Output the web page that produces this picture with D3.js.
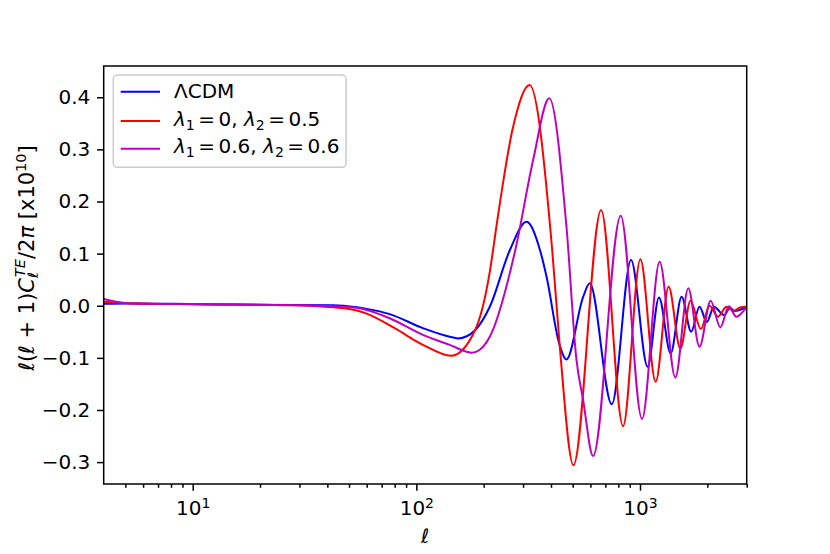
<!DOCTYPE html>
<html>
<head>
<meta charset="utf-8">
<script src="https://cdn.jsdelivr.net/npm/d3@7"></script>
<style>
  body { margin: 0; background: #fff; }
  svg text { font-family: "DejaVu Sans", sans-serif; fill: #000; }
</style>
</head>
<body>
<div id="chart"></div>
<script>
// multipole values (ell) and l(l+1)C_l^TE/2pi [x1e10]
const ellLcdm = [4, 5.1, 10.8, 27.3, 42.5, 54.2, 60, 76, 107,
  141, 154, 183, 213, 262, 311, 357, 382, 435, 469,
  557, 596, 748, 912, 1082, 1216, 1371, 1535, 1694, 1845,
  1990, 2140, 2377, 2526, 2650, 2985];
const clLcdm = [0.004, 0.0045, 0.003, 0.0015, 0.001, -0.003, -0.006, -0.016, -0.043,
  -0.0595, -0.0626, -0.047, -0.002, 0.107, 0.161, 0.107, 0.056, -0.072, -0.103,
  0.017, 0.043, -0.189, 0.0877, -0.117, 0.016, -0.0914, 0.0173, -0.05, -0.002,
  -0.031, -0.002, -0.018, -0.004, -0.01, -0.002];

const ellRed = [4, 5.1, 10.8, 27.3, 42.5, 54.2, 60, 80, 107, 143,
  183, 213, 228, 271, 321, 405, 438, 504, 670, 840,
  1004, 1175, 1343, 1515, 1683, 1871, 2046, 2230, 2438, 2610,
  2820, 2985];
const clRed = [0.0077, 0.005, 0.003, 0.001, -0.003, -0.009, -0.015, -0.043, -0.075, -0.096,
  -0.047, 0.065, 0.152, 0.344, 0.4236, 0.107, -0.079, -0.306, 0.1837, -0.231,
  0.089, -0.146, 0.0365, -0.0818, 0.0096, -0.0447, 0.0, -0.021, -0.002, -0.01,
  -0.003, -0.002];

const ellMag = [4, 5.1, 10.8, 27.3, 42.5, 54.2, 60, 76, 107, 141,
  177, 186, 213, 277, 333, 393, 469, 520, 557, 617,
  820, 1021, 1224, 1439, 1644, 1845, 2070, 2286, 2497, 2693,
  2985];
const clMag = [0.0129, 0.005, 0.003, 0.0012, -0.001, -0.004, -0.008, -0.024, -0.056, -0.075,
  -0.09, -0.088, -0.0595, 0.107, 0.28, 0.398, 0.152, -0.104, -0.181, -0.2885,
  0.1728, -0.217, 0.0845, -0.1375, 0.0334, -0.0787, 0.0096, -0.0415, -0.001, -0.021,
  -0.003];

const yTicks = [-0.3, -0.2, -0.1, 0.0, 0.1, 0.2, 0.3, 0.4];
const xTicks = [10, 100, 1000];
const xTickExp = ["1", "2", "3"];
const xMinorTicks = [5, 6, 7, 8, 9, 20, 30, 40, 50, 60, 70, 80, 90,
  200, 300, 400, 500, 600, 700, 800, 900, 2000, 3000];

const seriesNames = ["lcdm", "lam0", "lam06"];
const seriesColors = ["#0000ff", "#ff0000", "#bf00bf"];

const W = 830, H = 554;
const margin = { top: 66, right: 83.3, bottom: 70, left: 103.7 };

const svg = d3.select("#chart").append("svg")
  .attr("width", W)
  .attr("height", H);

const x = d3.scaleLog().domain([4, 3000]).range([margin.left, W - margin.right]);
const y = d3.scaleLinear().domain([-0.342, 0.46]).range([H - margin.bottom, margin.top]);

svg.append("clipPath").attr("id", "plotclip")
  .append("rect")
  .attr("x", margin.left).attr("y", margin.top)
  .attr("width", W - margin.left - margin.right)
  .attr("height", H - margin.top - margin.bottom);

// curves
const series = [
  { ell: ellLcdm, cl: clLcdm },
  { ell: ellRed, cl: clRed },
  { ell: ellMag, cl: clMag }
];
const line = d3.line()
  .x(d => x(d[0]))
  .y(d => y(d[1]))
  .curve(d3.curveMonotoneX);

series.forEach((s, i) => {
  svg.append("path")
    .datum(d3.zip(s.ell, s.cl))
    .attr("class", "curve " + seriesNames[i])
    .attr("clip-path", "url(#plotclip)")
    .attr("fill", "none")
    .attr("stroke", seriesColors[i])
    .attr("stroke-width", 2)
    .attr("d", line);
});

// axes
const fontSize = 20;
const smallSize = 14;
const yAxis = svg.append("g")
  .attr("transform", "translate(" + margin.left + ",0)")
  .call(d3.axisLeft(y).tickValues(yTicks).tickFormat(d3.format(".1f"))
    .tickSize(6.7).tickPadding(6.7));
yAxis.selectAll("text").attr("font-size", fontSize).attr("font-family", "DejaVu Sans");

const xAxis = svg.append("g")
  .attr("transform", "translate(0," + (H - margin.bottom) + ")")
  .call(d3.axisBottom(x).tickValues(xTicks).tickFormat(() => "")
    .tickSize(6.7));
xAxis.selectAll(".tick text").each(function(d, i) {
  const t = d3.select(this)
    .attr("font-size", fontSize)
    .attr("y", 30.5)
    .attr("dy", null);
  t.append("tspan").text("10");
  t.append("tspan").attr("font-size", smallSize).attr("dy", -7).text(xTickExp[i]);
});

svg.append("g")
  .attr("transform", "translate(0," + (H - margin.bottom) + ")")
  .call(d3.axisBottom(x).tickValues(xMinorTicks).tickFormat(() => "").tickSize(3.8))
  .call(g => g.select(".domain").remove());

svg.selectAll(".domain").attr("stroke", "none");
svg.selectAll(".tick line").attr("stroke", "#000").attr("stroke-width", 1.5);

// frame
svg.append("rect")
  .attr("x", margin.left).attr("y", margin.top)
  .attr("width", W - margin.left - margin.right)
  .attr("height", H - margin.top - margin.bottom)
  .attr("fill", "none")
  .attr("stroke", "#000")
  .attr("stroke-width", 1.5);

// axis labels
svg.append("text")
  .attr("x", (margin.left + W - margin.right) / 2)
  .attr("y", 543)
  .attr("text-anchor", "middle")
  .attr("font-size", fontSize)
  .attr("font-style", "italic")
  .text("\u2113");

const ylabSize = 21;
const ylab = svg.append("text")
  .attr("transform", "translate(34,258) rotate(-90)")
  .attr("text-anchor", "middle")
  .attr("font-size", ylabSize);
ylab.append("tspan").attr("font-style", "italic").text("\u2113");
ylab.append("tspan").text("(");
ylab.append("tspan").attr("font-style", "italic").text("\u2113");
ylab.append("tspan").text(" + 1)");
ylab.append("tspan").attr("font-style", "italic").text("C");
ylab.append("tspan").attr("font-style", "italic").attr("font-size", smallSize + 0.5).attr("dy", 4).text("\u2113");
ylab.append("tspan").attr("font-style", "italic").attr("font-size", smallSize + 0.5).attr("dx", -5).attr("dy", -13).text("TE");
ylab.append("tspan").attr("dy", 9).text("/2");
ylab.append("tspan").attr("font-style", "italic").text("\u03c0");
ylab.append("tspan").text(" [x10");
ylab.append("tspan").attr("font-size", smallSize + 0.5).attr("dy", -8).text("10");
ylab.append("tspan").attr("dy", 8).text("]");

// legend
const legend = svg.append("g").attr("class", "legend");
legend.append("rect")
  .attr("x", 113.3).attr("y", 75)
  .attr("width", 232.7).attr("height", 92.3)
  .attr("rx", 4)
  .attr("fill", "#fff").attr("fill-opacity", 0.8)
  .attr("stroke", "#cccccc").attr("stroke-width", 1.5);

const legendRows = [91.7, 121, 148.7];
const legendLabels = [
  [{ t: "\u039bCDM" }],
  [{ t: "\u03bb", it: true }, { t: "1", sub: true }, { t: "=", gap: true }, { t: "0, ", gap: true },
   { t: "\u03bb", it: true }, { t: "2", sub: true }, { t: "=", gap: true }, { t: "0.5", gap: true }],
  [{ t: "\u03bb", it: true }, { t: "1", sub: true }, { t: "=", gap: true }, { t: "0.6, ", gap: true },
   { t: "\u03bb", it: true }, { t: "2", sub: true }, { t: "=", gap: true }, { t: "0.6", gap: true }]
];
legendRows.forEach((ry, i) => {
  legend.append("line")
    .attr("x1", 120.7).attr("x2", 160)
    .attr("y1", ry).attr("y2", ry)
    .attr("stroke", seriesColors[i]).attr("stroke-width", 2);
  const txt = legend.append("text")
    .attr("x", 174)
    .attr("y", ry + (i === 0 ? 6.2 : 4.5))
    .attr("font-size", fontSize);
  let lowered = false;
  legendLabels[i].forEach(p => {
    const ts = txt.append("tspan").text(p.t);
    if (p.it) ts.attr("font-style", "italic");
    if (p.gap) ts.attr("dx", 3.5);
    if (p.sub) {
      ts.attr("font-size", smallSize).attr("dy", 4);
      lowered = true;
    } else if (lowered) {
      ts.attr("dy", -4);
      lowered = false;
    }
  });
});
</script>
</body>
</html>
